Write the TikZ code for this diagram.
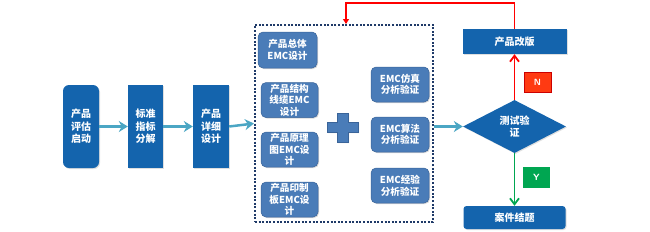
\documentclass[tikz,border=0pt]{standalone}
\usepackage{fontspec}
\newfontfamily\cjk{Noto Sans CJK SC}
\usetikzlibrary{arrows.meta,shapes.geometric,shadows}
\definecolor{dblue}{HTML}{1464AD}
\definecolor{sblue}{HTML}{4A7CB8}
\definecolor{sbord}{HTML}{3A6499}
\definecolor{teal}{HTML}{4BA6C4}
\definecolor{navy}{HTML}{1F3A68}
\definecolor{nred}{HTML}{FF3A12}
\definecolor{ygreen}{HTML}{00A651}
\begin{document}
\begin{tikzpicture}[x=1pt,y=-1pt,
  lbl/.style={font=\cjk\bfseries\fontsize{10}{12.5}\selectfont, text=white, align=center, inner sep=0pt},
  mainbox/.style={lbl, fill=dblue, draw=none, drop shadow={shadow xshift=1pt,shadow yshift=-1pt,opacity=0.25}},
  subbox/.style={lbl, font=\cjk\bfseries\fontsize{9.6}{11.6}\selectfont, fill=sblue, draw=sbord, line width=0.5pt, rounded corners=5pt, minimum width=57pt, minimum height=35pt, drop shadow={shadow xshift=1pt,shadow yshift=-1pt,opacity=0.3}},
  tag/.style={font=\sffamily\bfseries\fontsize{9}{10}\selectfont, text=white, inner sep=0pt, minimum width=27pt, minimum height=20pt},
  flow/.style={draw=teal, line width=2.5pt, -{Stealth[length=9pt,width=11pt]}},
  ]
\useasboundingbox (0,0) rectangle (650,231);

\node[mainbox, rounded corners=6pt, minimum width=36pt, minimum height=83pt] (a) at (81,126.5) {产品\\评估\\启动};
\node[mainbox, minimum width=35pt, minimum height=83pt] (b) at (145.5,126.5) {标准\\指标\\分解};
\node[mainbox, minimum width=36pt, minimum height=83pt] (c) at (211,126.5) {产品\\详细\\设计};

\node[draw=navy, line width=2pt, dash pattern=on 2pt off 1.6pt, minimum width=178pt, minimum height=197pt, inner sep=0pt] (box) at (344,123.5) {};

\node[subbox, minimum width=59pt, minimum height=36pt] (l1) at (287.5,50) {产品总体\\EMC设计};
\node[subbox] (l2) at (289.5,100) {产品结构\\线缆EMC\\设计};
\node[subbox] (l3) at (289.5,149.5) {产品原理\\图EMC设\\计};
\node[subbox] (l4) at (289.5,199.5) {产品印制\\板EMC设\\计};

\node[subbox, minimum width=58pt] (r1) at (400,84.5) {EMC仿真\\分析验证};
\node[subbox, minimum width=58pt] (r2) at (400,134.5) {EMC算法\\分析验证};
\node[subbox, minimum width=58pt] (r3) at (400,185.5) {EMC经验\\分析验证};

\fill[sblue, draw=sbord, line width=0.6pt, drop shadow={shadow xshift=1pt,shadow yshift=-1pt,opacity=0.3}]
  (337,113) -- (348,113) -- (348,122) -- (358,122) -- (358,132) -- (348,132) -- (348,142)
  -- (337,142) -- (337,132) -- (327,132) -- (327,122) -- (337,122) -- cycle;

\node[mainbox, diamond, minimum width=103pt, minimum height=53pt, aspect=1.94] (d) at (514.5,126.5) {测试验\\证};
\node[mainbox, minimum width=104pt, minimum height=25pt] (rev) at (514.5,41.5) {产品改版};
\node[mainbox, rounded corners=3pt, minimum width=102pt, minimum height=23pt] (end) at (514.5,217.5) {案件结题};

\node[tag, fill=nred, draw=red!80!black, line width=0.6pt] (n) at (537.5,82) {N};
\node[tag, fill=ygreen, minimum height=21pt] (y) at (536.5,177.5) {Y};

\draw[flow] (a) -- (b);
\draw[flow] (b) -- (c);
\draw[flow] (c.east) -- (box.west);
\draw[flow] (box.east |- d.west) -- (d.west);

\draw[red, line width=1.8pt, -{Straight Barb[length=6pt,width=9pt]}] (d.north) -- (rev.south);
\draw[ygreen, line width=1.8pt, -{Straight Barb[length=6pt,width=9pt]}] (d.south) -- (end.north);

\coordinate (top) at (514.5,3);
\draw[red, line width=1.5pt, -{Triangle[length=5pt,width=6pt]}] (rev.north) -- (top) -| ([xshift=2pt]box.north);
\end{tikzpicture}
\end{document}
